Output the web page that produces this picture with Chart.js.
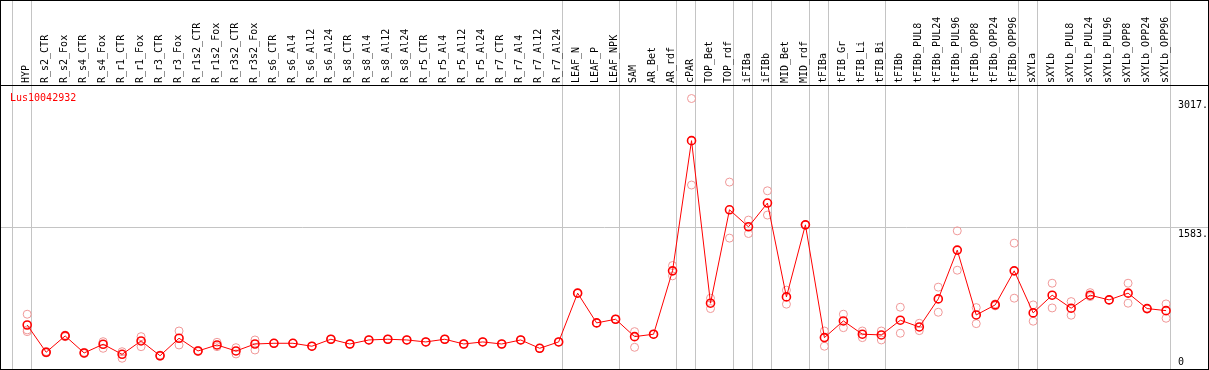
<!DOCTYPE html>
<html>
<head>
<meta charset="utf-8">
<title>Lus10042932</title>
<script src="https://cdn.jsdelivr.net/npm/chart.js@4/dist/chart.umd.min.js"></script>
<style>
  body { margin: 0; background: #fff; }
  #marco { position: relative; width: 1207px; height: 368px; border: 1px solid #000; }
  #gen { position: absolute; left: 9px; top: 91px; font: 10px "DejaVu Sans Mono", monospace; color: #ff0000; }
</style>
</head>
<body>
<div id="marco">
  <canvas id="graficoGen"></canvas>
  <div id="gen">Lus10042932</div>
</div>
<script>
// categorias (muestras)
const muestras = ['HYP', 'R_s2_CTR', 'R_s2_Fox', 'R_s4_CTR', 'R_s4_Fox', 'R_r1_CTR', 'R_r1_Fox', 'R_r3_CTR', 'R_r3_Fox',
  'R_r1s2_CTR', 'R_r1s2_Fox', 'R_r3s2_CTR', 'R_r3s2_Fox', 'R_s6_CTR', 'R_s6_Al4', 'R_s6_Al12', 'R_s6_Al24',
  'R_s8_CTR', 'R_s8_Al4', 'R_s8_Al12', 'R_s8_Al24', 'R_r5_CTR', 'R_r5_Al4', 'R_r5_Al12', 'R_r5_Al24',
  'R_r7_CTR', 'R_r7_Al4', 'R_r7_Al12', 'R_r7_Al24', 'LEAF_N', 'LEAF_P', 'LEAF_NPK', 'SAM', 'AR_Bet', 'AR_rdf',
  'cPAR', 'TOP_Bet', 'TOP_rdf', 'iFIBa', 'iFIBb', 'MID_Bet', 'MID_rdf', 'tFIBa', 'tFIB_Gr', 'tFIB_Li', 'tFIB_Bi',
  'tFIBb', 'tFIBb_PUL8', 'tFIBb_PUL24', 'tFIBb_PUL96', 'tFIBb_OPP8', 'tFIBb_OPP24', 'tFIBb_OPP96',
  'sXYLa', 'sXYLb', 'sXYLb_PUL8', 'sXYLb_PUL24', 'sXYLb_PUL96', 'sXYLb_OPP8', 'sXYLb_OPP24', 'sXYLb_OPP96'];

// media por muestra
const media = [491, 187, 369, 179, 276, 164, 313, 148, 343, 201, 268, 201, 279, 287, 287, 254, 332,
  279, 324, 332, 324, 302, 332, 279, 302, 279, 324, 231, 302, 846, 514, 555, 361, 388, 1095,
  2547, 734, 1776, 1586, 1851, 804, 1608, 350, 536, 388, 380, 544, 469, 782, 1326, 603, 715, 1095,
  626, 823, 678, 823, 771, 846, 674, 651];

// replicas
const replica1 = [611, 180, 360, 172, 305, 193, 361, 142, 424, 195, 298, 238, 324, 287, 287, 254, 332,
  279, 324, 332, 324, 302, 332, 279, 302, 279, 324, 231, 302, 846, 514, 555, 417, 388, 1154,
  3017, 790, 2085, 1661, 1988, 879, 1608, 424, 611, 424, 424, 689, 510, 913, 1541, 685, 726, 1404,
  715, 957, 752, 852, 771, 957, 674, 726];
const replica2 = [436, 195, 378, 186, 231, 120, 249, 155, 268, 207, 249, 168, 212, 287, 287, 254, 332,
  279, 324, 332, 324, 302, 332, 279, 302, 279, 324, 231, 302, 846, 514, 555, 242, 388, 1039,
  2052, 674, 1460, 1511, 1717, 723, 1608, 254, 461, 350, 324, 399, 428, 633, 1102, 506, 704, 790,
  533, 681, 600, 808, 771, 734, 674, 566];
const replica3 = [417];

// ultima muestra de cada grupo (lineas verticales)
const finGrupo = [-1, 0, 28, 31, 34, 35, 37, 38, 39, 41, 42, 45, 52, 53, 60];

// marcas del eje y
const marcasY = [0, 1583, 3017];
const textoY = ['0', '1583.', '3017.'];

const yMax = 3017 * 1.05;

const puntosMedia = muestras.map((m, i) => ({ x: i, y: media[i] }));
const puntosReplica = [];
[replica1, replica2, replica3].forEach(function (rep) {
  rep.forEach(function (v, i) {
    if (v != null) puntosReplica.push({ x: i, y: v });
  });
});

// quitar el relleno que chart.js deja para las etiquetas
function sinRelleno(scale) {
  scale.paddingLeft = 0;
  scale.paddingRight = 0;
  scale.paddingTop = 0;
  scale.paddingBottom = 0;
}

const ctx = document.getElementById('graficoGen');
new Chart(ctx, {
  type: 'line',
  data: {
    datasets: [{
      label: 'Lus10042932',
      data: puntosMedia,
      borderColor: '#ff0000',
      borderWidth: 1,
      pointRadius: 4,
      pointBorderWidth: 1.6,
      pointBorderColor: '#ff0000',
      pointBackgroundColor: 'rgba(0,0,0,0)',
      tension: 0,
      order: 0
    }, {
      label: 'replicas',
      data: puntosReplica,
      showLine: false,
      pointRadius: 4,
      pointBorderWidth: 1,
      pointBorderColor: '#f09898',
      pointBackgroundColor: 'rgba(0,0,0,0)',
      order: 1
    }]
  },
  options: {
    responsive: true,
    maintainAspectRatio: false,
    animation: false,
    layout: { padding: 0, autoPadding: false },
    plugins: { legend: { display: false }, tooltip: { enabled: false } },
    scales: {
      x: {
        type: 'linear',
        position: 'top',
        min: -1.38,
        max: 62.21,
        afterBuildTicks: function (scale) {
          const t = muestras.map((m, i) => ({ value: i }));
          finGrupo.forEach(g => t.push({ value: g + 0.225 }));
          scale.ticks = t;
        },
        afterFit: function (scale) {
          scale.height = 84;
          sinRelleno(scale);
        },
        grid: {
          color: c => (Number.isInteger(c.tick.value) ? 'rgba(0,0,0,0)' : '#c4c4c4'),
          lineWidth: 1,
          drawTicks: true,
          tickLength: 84
        },
        border: { display: true, color: '#000', width: 1 },
        ticks: {
          autoSkip: false,
          minRotation: 90,
          maxRotation: 90,
          padding: -82,
          labelOffset: 11,
          color: '#000',
          font: { family: 'DejaVu Sans Mono', size: 10 },
          callback: function (v) { return Number.isInteger(v) ? muestras[v] : ''; }
        }
      },
      y: {
        type: 'linear',
        position: 'right',
        min: 0,
        max: yMax,
        afterBuildTicks: function (scale) {
          scale.ticks = marcasY.map(v => ({ value: v }));
        },
        afterFit: function (scale) {
          scale.width = 0;
          sinRelleno(scale);
        },
        grid: {
          color: c => (c.tick.value === marcasY[1] ? '#c4c4c4' : 'rgba(0,0,0,0)'),
          drawTicks: false
        },
        border: { display: false },
        ticks: {
          mirror: true,
          crossAlign: 'far',
          padding: 0,
          color: '#000',
          font: { family: 'DejaVu Sans Mono', size: 10, lineHeight: 1.4 },
          callback: function (v) {
            const i = marcasY.indexOf(v);
            if (i === 0) return [textoY[i], ''];
            return ['', textoY[i]];
          }
        }
      }
    }
  }
});
</script>
</body>
</html>
